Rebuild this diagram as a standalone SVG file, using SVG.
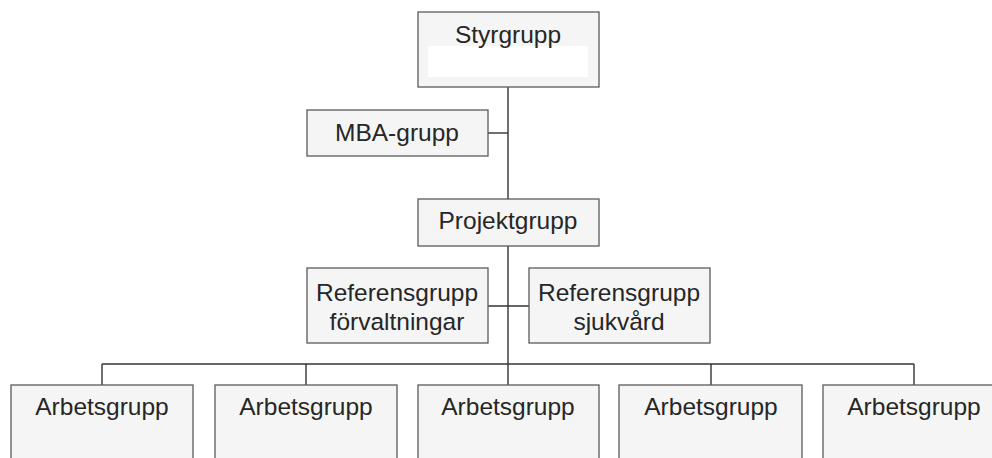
<svg xmlns="http://www.w3.org/2000/svg" width="992" height="458" viewBox="0 0 992 458">
  <style>
    .box { fill: #f5f5f5; stroke: #5a5a5a; stroke-width: 1.3; }
    .lbl { font-family: "Liberation Sans", Arial, sans-serif; font-size: 24.5px; fill: #262626; text-anchor: middle; }
    .wire { stroke: #333333; stroke-width: 1.4; fill: none; }
  </style>
  <rect width="992" height="458" fill="#ffffff"/>

  <!-- connectors -->
  <g id="connectors">
    <line class="wire" x1="508" y1="87" x2="508" y2="364"/>
    <line class="wire" x1="488" y1="133" x2="508" y2="133"/>
    <line class="wire" x1="488" y1="306" x2="529" y2="306"/>
    <line class="wire" x1="102" y1="364" x2="914" y2="364"/>
    <line class="wire" x1="102" y1="364" x2="102" y2="385"/>
    <line class="wire" x1="306" y1="364" x2="306" y2="385"/>
    <line class="wire" x1="508" y1="364" x2="508" y2="385"/>
    <line class="wire" x1="711" y1="364" x2="711" y2="385"/>
    <line class="wire" x1="914" y1="364" x2="914" y2="385"/>
  </g>

  <g id="styrgrupp">
    <rect class="box" x="418" y="12" width="181" height="75"/>
    <rect x="428" y="46" width="160" height="31" fill="#ffffff"/>
    <text class="lbl" x="508" y="43">Styrgrupp</text>
  </g>

  <g id="mba-grupp">
    <rect class="box" x="307" y="110" width="181" height="46"/>
    <text class="lbl" x="397" y="141">MBA-grupp</text>
  </g>

  <g id="projektgrupp">
    <rect class="box" x="418" y="199" width="181" height="47"/>
    <text class="lbl" x="508" y="229">Projektgrupp</text>
  </g>

  <g id="referensgrupp-forvaltningar">
    <rect class="box" x="307" y="268" width="181" height="75"/>
    <text class="lbl" x="397" y="301">Referensgrupp</text>
    <text class="lbl" x="397" y="330">förvaltningar</text>
  </g>

  <g id="referensgrupp-sjukvard">
    <rect class="box" x="529" y="268" width="181" height="75"/>
    <text class="lbl" x="619" y="301">Referensgrupp</text>
    <text class="lbl" x="619" y="330">sjukvård</text>
  </g>

  <g id="arbetsgrupp-1">
    <rect class="box" x="11" y="385" width="182" height="90"/>
    <text class="lbl" x="102" y="415">Arbetsgrupp</text>
  </g>
  <g id="arbetsgrupp-2">
    <rect class="box" x="215" y="385" width="182" height="90"/>
    <text class="lbl" x="306" y="415">Arbetsgrupp</text>
  </g>
  <g id="arbetsgrupp-3">
    <rect class="box" x="418" y="385" width="181" height="90"/>
    <text class="lbl" x="508" y="415">Arbetsgrupp</text>
  </g>
  <g id="arbetsgrupp-4">
    <rect class="box" x="619" y="385" width="183" height="90"/>
    <text class="lbl" x="711" y="415">Arbetsgrupp</text>
  </g>
  <g id="arbetsgrupp-5">
    <rect class="box" x="823" y="385" width="182" height="90"/>
    <text class="lbl" x="914" y="415">Arbetsgrupp</text>
  </g>
</svg>
